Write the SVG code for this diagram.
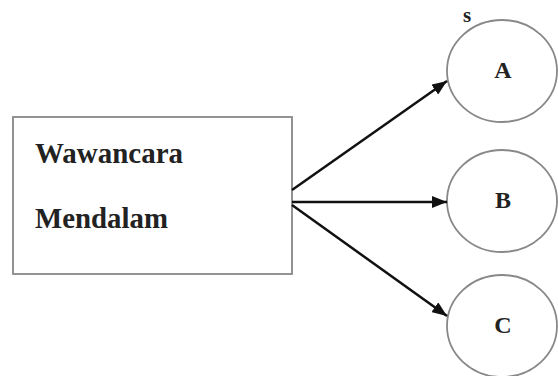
<svg xmlns="http://www.w3.org/2000/svg" width="558" height="376" viewBox="0 0 558 376">
<style>
.t{font-family:"Liberation Serif","Times New Roman",serif;font-weight:bold;fill:#222}
.node{fill:#fff;stroke:#888;stroke-width:1.8}
.edge{stroke:#111;stroke-width:2.5;fill:none}
</style>
<defs>
<marker id="ah" viewBox="0 0 15 12" refX="15" refY="6" markerWidth="15" markerHeight="12" markerUnits="userSpaceOnUse" orient="auto">
<path d="M0,0 L15,6 L0,12 z" fill="#111"/>
</marker>
</defs>
<rect width="558" height="376" fill="#fff"/>
<g id="box">
<rect class="node" x="13" y="117" width="279" height="157"/>
<text class="t" x="35" y="163" font-size="29" textLength="148" lengthAdjust="spacingAndGlyphs">Wawancara</text>
<text class="t" x="35" y="228" font-size="29" textLength="133" lengthAdjust="spacingAndGlyphs">Mendalam</text>
</g>
<g id="nodeA">
<ellipse class="node" cx="502" cy="71" rx="55" ry="51"/>
<text class="t" x="503" y="78" font-size="24" text-anchor="middle">A</text>
</g>
<text class="t" x="467" y="22" font-size="21" text-anchor="middle">s</text>
<g id="nodeB">
<ellipse class="node" cx="502" cy="201" rx="55" ry="51"/>
<text class="t" x="503" y="208" font-size="24" text-anchor="middle">B</text>
</g>
<g id="nodeC">
<ellipse class="node" cx="502" cy="326" rx="55" ry="51"/>
<text class="t" x="503" y="333" font-size="24" text-anchor="middle">C</text>
</g>
<g id="edges">
<line class="edge" x1="292" y1="190" x2="447" y2="81" marker-end="url(#ah)"/>
<line class="edge" x1="292" y1="202" x2="447" y2="202" marker-end="url(#ah)"/>
<line class="edge" x1="292" y1="205" x2="447" y2="316" marker-end="url(#ah)"/>
</g>
</svg>
